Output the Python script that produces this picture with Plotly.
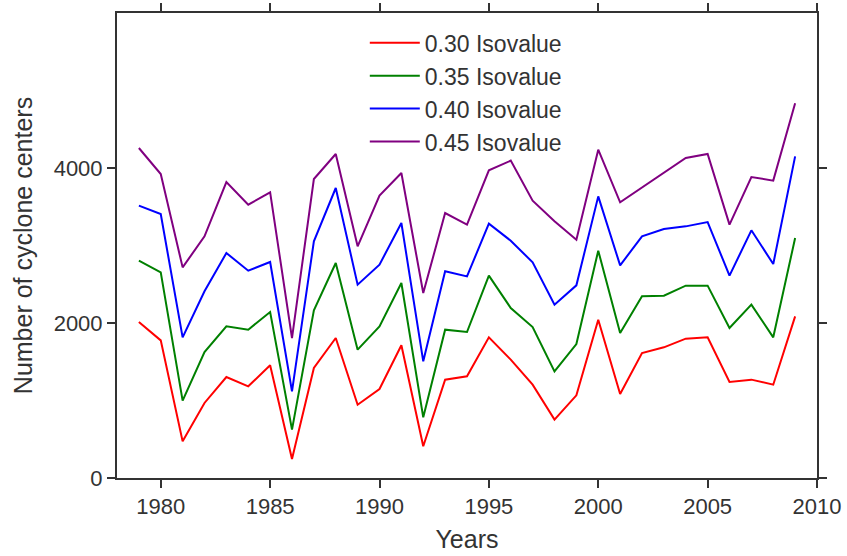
import plotly.graph_objects as go

years = list(range(1979, 2010))

iso_030 = [2013, 1776, 473, 968, 1303, 1183, 1454, 245, 1419, 1806, 946, 1148, 1712, 409, 1269, 1312,
           1815, 1527, 1204, 753, 1067, 2043, 1084, 1613, 1686, 1798, 1815, 1239, 1269, 1204, 2086]
iso_035 = [2804, 2654, 998, 1626, 1957, 1914, 2142, 624, 2163, 2774, 1656, 1957, 2516, 783, 1914, 1884,
           2611, 2194, 1948, 1376, 1729, 2933, 1871, 2344, 2353, 2482, 2482, 1935, 2237, 1815, 3097]
iso_040 = [3514, 3406, 1815, 2409, 2903, 2675, 2787, 1118, 3054, 3742, 2495, 2753, 3290, 1505, 2667, 2602,
           3282, 3062, 2783, 2237, 2486, 3634, 2744, 3118, 3213, 3247, 3303, 2611, 3196, 2761, 4150]
iso_045 = [4258, 3922, 2718, 3118, 3819, 3527, 3686, 1806, 3858, 4181, 2989, 3643, 3935, 2387, 3419, 3269,
           3970, 4095, 3578, 3312, 3075, 4236, 3557, 3750, 3935, 4129, 4181, 3269, 3884, 3837, 4835]

series_names = ["0.30 Isovalue", "0.35 Isovalue", "0.40 Isovalue", "0.45 Isovalue"]
series_values = [iso_030, iso_035, iso_040, iso_045]
series_colors = ["#ff0000", "#008000", "#0000ff", "#800080"]

x_ticks = [1980, 1985, 1990, 1995, 2000, 2005, 2010]
y_ticks = [0, 2000, 4000]

FONT = "Liberation Sans, Arial, sans-serif"
TXT = "#333333"

fig = go.Figure()
for i, (name, vals, col) in enumerate(zip(series_names, series_values, series_colors)):
    fig.add_trace(go.Scatter(x=years, y=vals, mode="lines", name=name, legendgroup=f"g{i}",
                             line=dict(color=col, width=2)))

axis_common = dict(showgrid=False, zeroline=False, showline=True, linecolor=TXT, linewidth=2,
                   mirror="ticks", ticks="outside", ticklen=8, tickwidth=1.5, tickcolor=TXT,
                   automargin=False,
                   tickfont=dict(family=FONT, size=22, color=TXT))

fig.update_xaxes(range=[1978, 2010], tickvals=x_ticks,
                 title=dict(text="Years", font=dict(family=FONT, size=25, color=TXT), standoff=12),
                 **axis_common)
fig.update_yaxes(range=[0, 6000], tickvals=y_ticks,
                 title=dict(text="Number of cyclone centers", font=dict(family=FONT, size=25, color=TXT), standoff=14),
                 **axis_common)

fig.update_layout(
    width=847, height=556,
    margin=dict(l=117, r=30, t=13, b=78, autoexpand=False),
    paper_bgcolor="white", plot_bgcolor="white",
    font=dict(family=FONT, color=TXT),
    legend=dict(x=0.354, y=0.982, xanchor="left", yanchor="top",
                bgcolor="rgba(0,0,0,0)", borderwidth=0,
                font=dict(family=FONT, size=23, color=TXT),
                itemwidth=50, tracegroupgap=0),
)

fig.write_html("out.html", config={"displayModeBar": False},
               post_script="document.body.style.margin='0';document.body.style.overflow='hidden';")
